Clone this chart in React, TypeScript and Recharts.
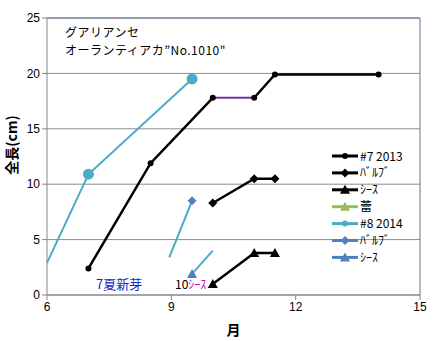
import React from 'react';
import { LineChart, Line, XAxis, YAxis, CartesianGrid, Legend, Label, ReferenceLine } from 'recharts';

// #7 2013
const stem7aMonths = [7, 8.5, 10];
const stem7aLen = [2.4, 11.9, 17.8];
const stem7bMonths = [11, 11.5, 14];
const stem7bLen = [17.8, 19.9, 19.9];
const gapMonths = [10, 11];
const gapLen = [17.8, 17.8];
const bulb7Months = [10, 11, 11.5];
const bulb7Len = [8.3, 10.5, 10.5];
const sheath7Months = [10, 11, 11.5];
const sheath7Len = [1.0, 3.8, 3.8];

// #8 2014
const stem8Months = [6, 7, 9.5];
const stem8Len = [2.9, 10.9, 19.5];
const bulb8Months = [8.95, 9.5];
const bulb8Len = [3.4, 8.5];
const sheath8Months = [9.5, 10];
const sheath8Len = [1.9, 4.0];

const xTicks = [6, 9, 12, 15];
const yTicks = [0, 5, 10, 15, 20, 25];

const legendNames = ['#7 2013', 'ﾊﾞﾙﾌﾞ', 'ｼｰｽ', '蕾', '#8 2014', 'ﾊﾞﾙﾌﾞ', 'ｼｰｽ'];
const legendColors = ['#000000', '#000000', '#000000', '#9BBB59', '#4BACC6', '#4F81BD', '#4F81BD'];
const legendShapes = ['circle', 'diamond', 'triangle', 'triangle', 'bigcircle', 'diamond', 'triangle'];

const toPoints = (xs: number[], ys: number[]) => xs.map((x, i) => ({ x, y: ys[i] }));

const jp = '"Noto Sans CJK JP", "Noto Sans", sans-serif';
const TEAL = '#4BACC6';
const BLUE = '#4F81BD';
const FRAME = '#5F7891';

function marker(shape: string, cx: number, cy: number, color: string, key: string | number) {
  if (shape === 'circle') return <circle key={key} cx={cx} cy={cy} r={3} fill={color} />;
  if (shape === 'bigcircle') return <circle key={key} cx={cx} cy={cy} r={5.5} fill={color} />;
  if (shape === 'diamond')
    return <polygon key={key} points={`${cx},${cy - 4.5} ${cx + 4.5},${cy} ${cx},${cy + 4.5} ${cx - 4.5},${cy}`} fill={color} />;
  if (shape === 'triangle')
    return <polygon key={key} points={`${cx},${cy - 5} ${cx + 5},${cy + 4} ${cx - 5},${cy + 4}`} fill={color} />;
  return <g key={key} />;
}

const makeDot = (shape: string, color: string, show: number[] | null) => (props: any) => {
  const { cx, cy, index } = props;
  if (show && !show.includes(index)) return <g key={`e${index}`} />;
  return marker(shape, cx, cy, color, `d${index}`);
};

function LegendBox() {
  return (
    <svg width={100} height={125}>
      {legendNames.map((name, i) => {
        const y = 8 + i * 16.9;
        return (
          <g key={i}>
            <line x1={2} x2={28} y1={y} y2={y} stroke={legendColors[i]} strokeWidth={3} />
            {marker(legendShapes[i] === 'bigcircle' ? 'circle' : legendShapes[i], 15, y, legendColors[i], 'm' + i)}
            <text x={30} y={y + 4.5} fontSize={12} fontFamily={jp} fill="#000">{name}</text>
          </g>
        );
      })}
    </svg>
  );
}

const YTitle = () => (
  <text x={17} y={145} transform="rotate(-90 17 145)" textAnchor="middle" fontSize={14} fontWeight="bold" fontFamily={jp} fill="#000">
    全長(cm)
  </text>
);

const titleStyle: React.CSSProperties = {
  position: 'absolute',
  left: 65,
  fontFamily: jp,
  fontSize: 12,
  letterSpacing: 0.5,
  lineHeight: '16px',
  color: '#000',
  whiteSpace: 'nowrap',
};

export default function App() {
  return (
    <div style={{ position: 'absolute', left: 0, top: 0, width: 436, height: 341, background: '#fff' }}>
      <LineChart width={436} height={341} margin={{ top: 18, right: 16, left: 0, bottom: 0 }}>
        <CartesianGrid horizontal vertical={false} stroke="#8C8C8C" />
        <XAxis
          type="number"
          dataKey="x"
          domain={[6, 15]}
          ticks={xTicks}
          height={46}
          stroke="#868686"
          tickSize={5}
          tick={{ fill: '#000', fontSize: 12, fontFamily: 'Liberation Sans, sans-serif' }}
        >
          <Label value="月" position="insideBottom" offset={6} style={{ fontSize: 14, fontWeight: 'bold', fontFamily: jp, fill: '#000' }} />
        </XAxis>
        <YAxis
          type="number"
          domain={[0, 25]}
          ticks={yTicks}
          width={47}
          stroke="#868686"
          tickSize={5}
          tick={{ fill: '#000', fontSize: 12, fontFamily: 'Liberation Sans, sans-serif' }}
        >
          <Label content={<YTitle />} />
        </YAxis>
        <ReferenceLine y={25} stroke={FRAME} strokeWidth={1} />
        <ReferenceLine x={15} stroke={FRAME} strokeWidth={1} />
        <Line data={toPoints(gapMonths, gapLen)} dataKey="y" stroke="#7030A0" strokeWidth={2} dot={false} isAnimationActive={false} legendType="none" />
        <Line data={toPoints(stem7aMonths, stem7aLen)} dataKey="y" stroke="#000" strokeWidth={2.5} dot={makeDot('circle', '#000', null)} isAnimationActive={false} />
        <Line data={toPoints(stem7bMonths, stem7bLen)} dataKey="y" stroke="#000" strokeWidth={2.5} dot={makeDot('circle', '#000', null)} isAnimationActive={false} />
        <Line data={toPoints(bulb7Months, bulb7Len)} dataKey="y" stroke="#000" strokeWidth={2.5} dot={makeDot('diamond', '#000', null)} isAnimationActive={false} />
        <Line data={toPoints(sheath7Months, sheath7Len)} dataKey="y" stroke="#000" strokeWidth={2.5} dot={makeDot('triangle', '#000', null)} isAnimationActive={false} />
        <Line data={toPoints(stem8Months, stem8Len)} dataKey="y" stroke={TEAL} strokeWidth={2} dot={makeDot('bigcircle', TEAL, [1, 2])} isAnimationActive={false} />
        <Line data={toPoints(bulb8Months, bulb8Len)} dataKey="y" stroke={TEAL} strokeWidth={2} dot={makeDot('diamond', BLUE, [1])} isAnimationActive={false} />
        <Line data={toPoints(sheath8Months, sheath8Len)} dataKey="y" stroke={TEAL} strokeWidth={2} dot={makeDot('triangle', BLUE, [0])} isAnimationActive={false} />
        <Legend
          layout="horizontal"
          verticalAlign="middle"
          align="center"
          content={() => <LegendBox />}
          wrapperStyle={{ left: 330, top: 148, width: 100, height: 125 }}
        />
      </LineChart>
      <div style={{ ...titleStyle, top: 24 }}>グアリアンセ</div>
      <div style={{ ...titleStyle, top: 42 }}>オーランティアカ”No.1010"</div>
      <div style={{ position: 'absolute', left: 96, top: 274, fontFamily: jp, fontSize: 13, color: '#2222CC', whiteSpace: 'nowrap' }}>7夏新芽</div>
      <div style={{ position: 'absolute', left: 175, top: 275, fontFamily: jp, fontSize: 12, whiteSpace: 'nowrap' }}>
        <span style={{ color: '#000' }}>10</span>
        <span style={{ color: '#CC00CC' }}>ｼｰｽ</span>
      </div>
    </div>
  );
}
